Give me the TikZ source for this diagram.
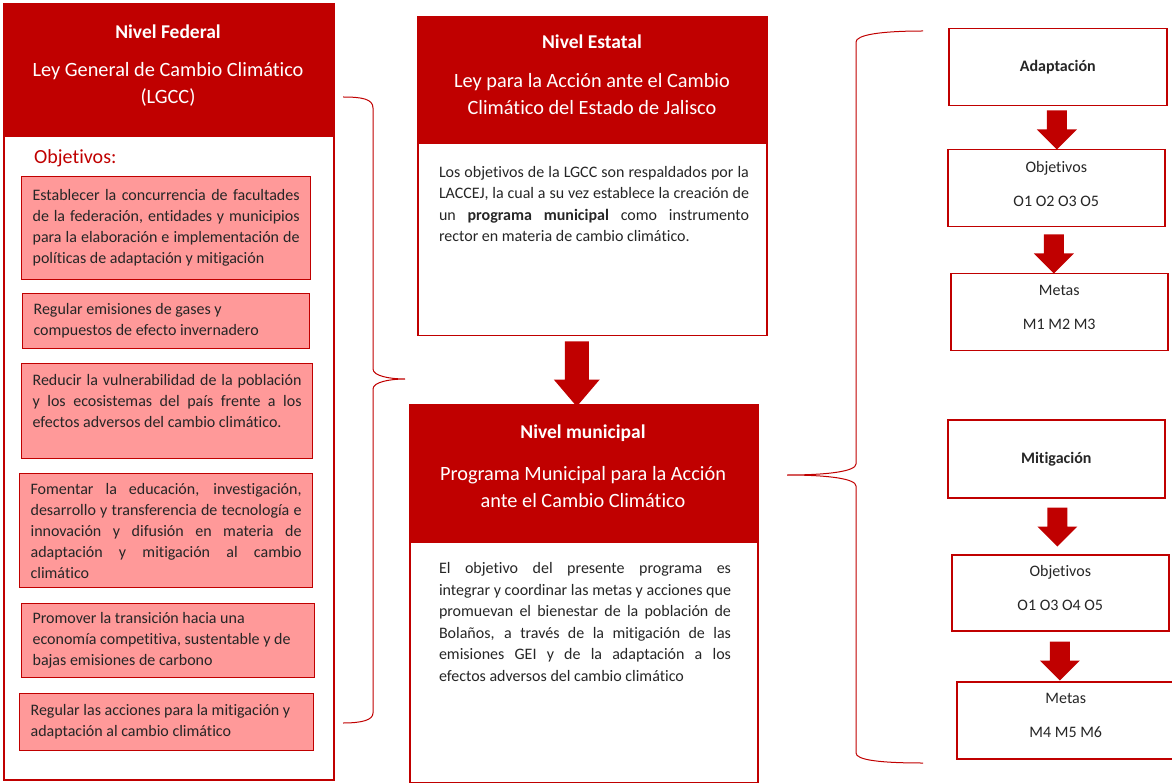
\documentclass[tikz,border=0pt]{standalone}
\usepackage{fontspec}
\setmainfont{Carlito}[Ligatures={NoCommon,NoRare,NoContextual}]
\usetikzlibrary{calc}
\definecolor{dr}{HTML}{C00000}
\definecolor{pk}{HTML}{FF9999}
\definecolor{tx}{HTML}{262626}
\newcommand\jline[2]{\makebox[#1][s]{#2}}
\newcommand\lline[2]{\makebox[#1][l]{#2}}
\begin{document}
\begin{tikzpicture}[x=1pt,y=-1pt,
  hdr/.style={fill=dr,draw=dr,line width=1pt,inner sep=0pt,anchor=north west},
  frame/.style={draw=dr,line width=1.5pt,fill=white,inner sep=0pt,anchor=north west},
  obj/.style={fill=pk,draw=dr,line width=1.2pt,inner sep=0pt,anchor=north west,align=left,text=tx,font=\fontsize{16}{21}\selectfont},
  ttl/.style={text=white,font=\bfseries\fontsize{19.5}{24}\selectfont,inner sep=0pt},
  sub/.style={text=white,align=center,font=\fontsize{20.3}{27}\selectfont,inner sep=0pt},
  body/.style={text=tx,align=left,font=\fontsize{16}{21.4}\selectfont,inner sep=0pt},
  rbox/.style={draw=dr,line width=1.5pt,fill=white,anchor=north west,inner sep=0pt},
  rtext/.style={align=center,text=tx,inner sep=0pt,font=\fontsize{16}{34}\selectfont},
  brace/.style={draw=dr,line width=1pt},
  pics/blockarrow/.style n args={4}{code={\fill[dr] (-#1,0) -- (#1,0) -- (#1,#3) -- (#2,#3) -- (0,#4) -- (-#2,#3) -- (-#1,#3) -- cycle;}}
]
\useasboundingbox (0,0) rectangle (1172,783);

% ---------- Federal ----------
\node[frame, minimum width=330, minimum height=776] (fed) at (3,3) {};
\node[hdr, minimum width=330, minimum height=133] (fedh) at (3,3) {};
\node[ttl] (fedt) at (168,32) {Nivel Federal};
\node[sub] (feds) at (168,84) {Ley General de Cambio Climático\\(LGCC)};
\node[text=dr, font=\fontsize{20}{24}\selectfont, anchor=west, inner sep=0pt] (objl) at (34,158) {Objetivos:};

\node[obj, minimum width=289, minimum height=103] (o1) at (21,176)
 {\jline{267pt}{Establecer la concurrencia de facultades}\\
  \jline{267pt}{de la federación, entidades y municipios}\\
  \jline{267pt}{para la elaboración e implementación de}\\
  políticas de adaptación y mitigación};
\node[obj, minimum width=287, minimum height=55] (o2) at (22,293)
 {\lline{265pt}{Regular emisiones de gases y}\\
  compuestos de efecto invernadero};
\node[obj, minimum width=291, minimum height=95] (o3) at (21,363)
 {\jline{269pt}{Reducir la vulnerabilidad de la población}\\
  \jline{269pt}{y los ecosistemas del país frente a los}\\
  efectos adversos del cambio climático.\\
  \mbox{}};
\node[obj, minimum width=293, minimum height=114] (o4) at (19,473)
 {\jline{271pt}{Fomentar la educación, investigación,}\\
  \jline{271pt}{desarrollo y transferencia de tecnología e}\\
  \jline{271pt}{innovación y difusión en materia de}\\
  \jline{271pt}{adaptación y mitigación al cambio}\\
  climático};
\node[obj, minimum width=293, minimum height=74] (o5) at (21,603)
 {\lline{271pt}{Promover la transición hacia una}\\
  economía competitiva, sustentable y de\\
  bajas emisiones de carbono};
\node[obj, minimum width=294, minimum height=57] (o6) at (19,693)
 {\lline{272pt}{Regular las acciones para la mitigación y}\\
  adaptación al cambio climático};

% ---------- Estatal ----------
\node[frame, minimum width=349, minimum height=319] (est) at (417,16) {};
\node[hdr, minimum width=349, minimum height=127] (esth) at (417,16) {};
\node[ttl] (estt) at (592,42) {Nivel Estatal};
\node[sub] (ests) at (592,94) {Ley para la Acción ante el Cambio\\Climático del Estado de Jalisco};
\node[body] (estb) at (594,204)
 {\jline{310pt}{Los objetivos de la LGCC son respaldados por la}\\
  \jline{310pt}{LACCEJ, la cual a su vez establece la creación de}\\
  \jline{310pt}{un \textbf{programa municipal} como instrumento}\\
  rector en materia de cambio climático.};

% ---------- Municipal ----------
\node[frame, minimum width=348, minimum height=378] (mun) at (409,404) {};
\node[hdr, minimum width=348, minimum height=138] (munh) at (409,404) {};
\node[ttl] (munt) at (583,433) {Nivel municipal};
\node[sub] (muns) at (583,487) {Programa Municipal para la Acción\\ante el Cambio Climático};
\node[body, font=\fontsize{16}{21.6}\selectfont] (munb) at (585,622)
 {\jline{292pt}{El objetivo del presente programa es}\\
  \jline{292pt}{integrar y coordinar las metas y acciones que}\\
  \jline{292pt}{promuevan el bienestar de la población de}\\
  \jline{292pt}{Bolaños, a través de la mitigación de las}\\
  \jline{292pt}{emisiones GEI y de la adaptación a los}\\
  efectos adversos del cambio climático};

\pic at ($(est.south)+(-15.5,5)$) {blockarrow={12}{23}{38}{65}};

% ---------- Right column ----------
\node[rbox, minimum width=218, minimum height=77] (ad) at (948,28) {};
\node[rtext, font=\bfseries\fontsize{16}{20}\selectfont] (adt) at (ad.center) {Adaptación};
\node[rbox, minimum width=217, minimum height=77] (ao) at (947,149) {};
\node[rtext] (aot) at ($(ao.center)+(0,-4.5)$) {Objetivos\\O1 O2 O3 O5};
\node[rbox, minimum width=217, minimum height=77] (am) at (950,273) {};
\node[rtext] (amt) at ($(am.center)+(0,-5)$) {Metas\\M1 M2 M3};
\node[rbox, minimum width=217, minimum height=78] (mi) at (947,419) {};
\node[rtext, font=\bfseries\fontsize{16}{20}\selectfont] (mit) at (mi.center) {Mitigación};
\node[rbox, minimum width=217, minimum height=76] (mo) at (951,554) {};
\node[rtext] (mot) at ($(mo.center)+(0,-4.5)$) {Objetivos\\O1 O3 O4 O5};
\node[rbox, minimum width=218, minimum height=77] (mm) at (956,681) {};
\node[rtext] (mmt) at ($(mm.center)+(0,-4.5)$) {Metas\\M4 M5 M6};

\pic at ($(ad.south)+(-1,4)$) {blockarrow={10}{20}{19}{39}};
\pic at ($(ao.south)+(-2.5,7)$) {blockarrow={10}{20}{19}{39}};
\pic at ($(mi.south)+(1,9)$) {blockarrow={10}{20}{19}{39}};
\pic at ($(mo.south)+(-0.5,10)$) {blockarrow={10}{20}{19}{39}};

% ---------- Braces ----------
\draw[brace] (343,97) .. controls (362,97) and (373,99) .. (373,108) -- (373,369)
  .. controls (373,376) and (390,379) .. (405,379)
  .. controls (390,379) and (373,382) .. (373,389) -- (373,713)
  .. controls (373,720) and (362,723) .. (343,723);
\draw[brace] (923,31) .. controls (880,31) and (856,35) .. (856,42) -- (856,464)
  .. controls (856,471) and (830,475) .. (787,475)
  .. controls (830,475) and (856,479) .. (856,486) -- (856,753)
  .. controls (856,760) and (880,763) .. (923,763);
\end{tikzpicture}
\end{document}
